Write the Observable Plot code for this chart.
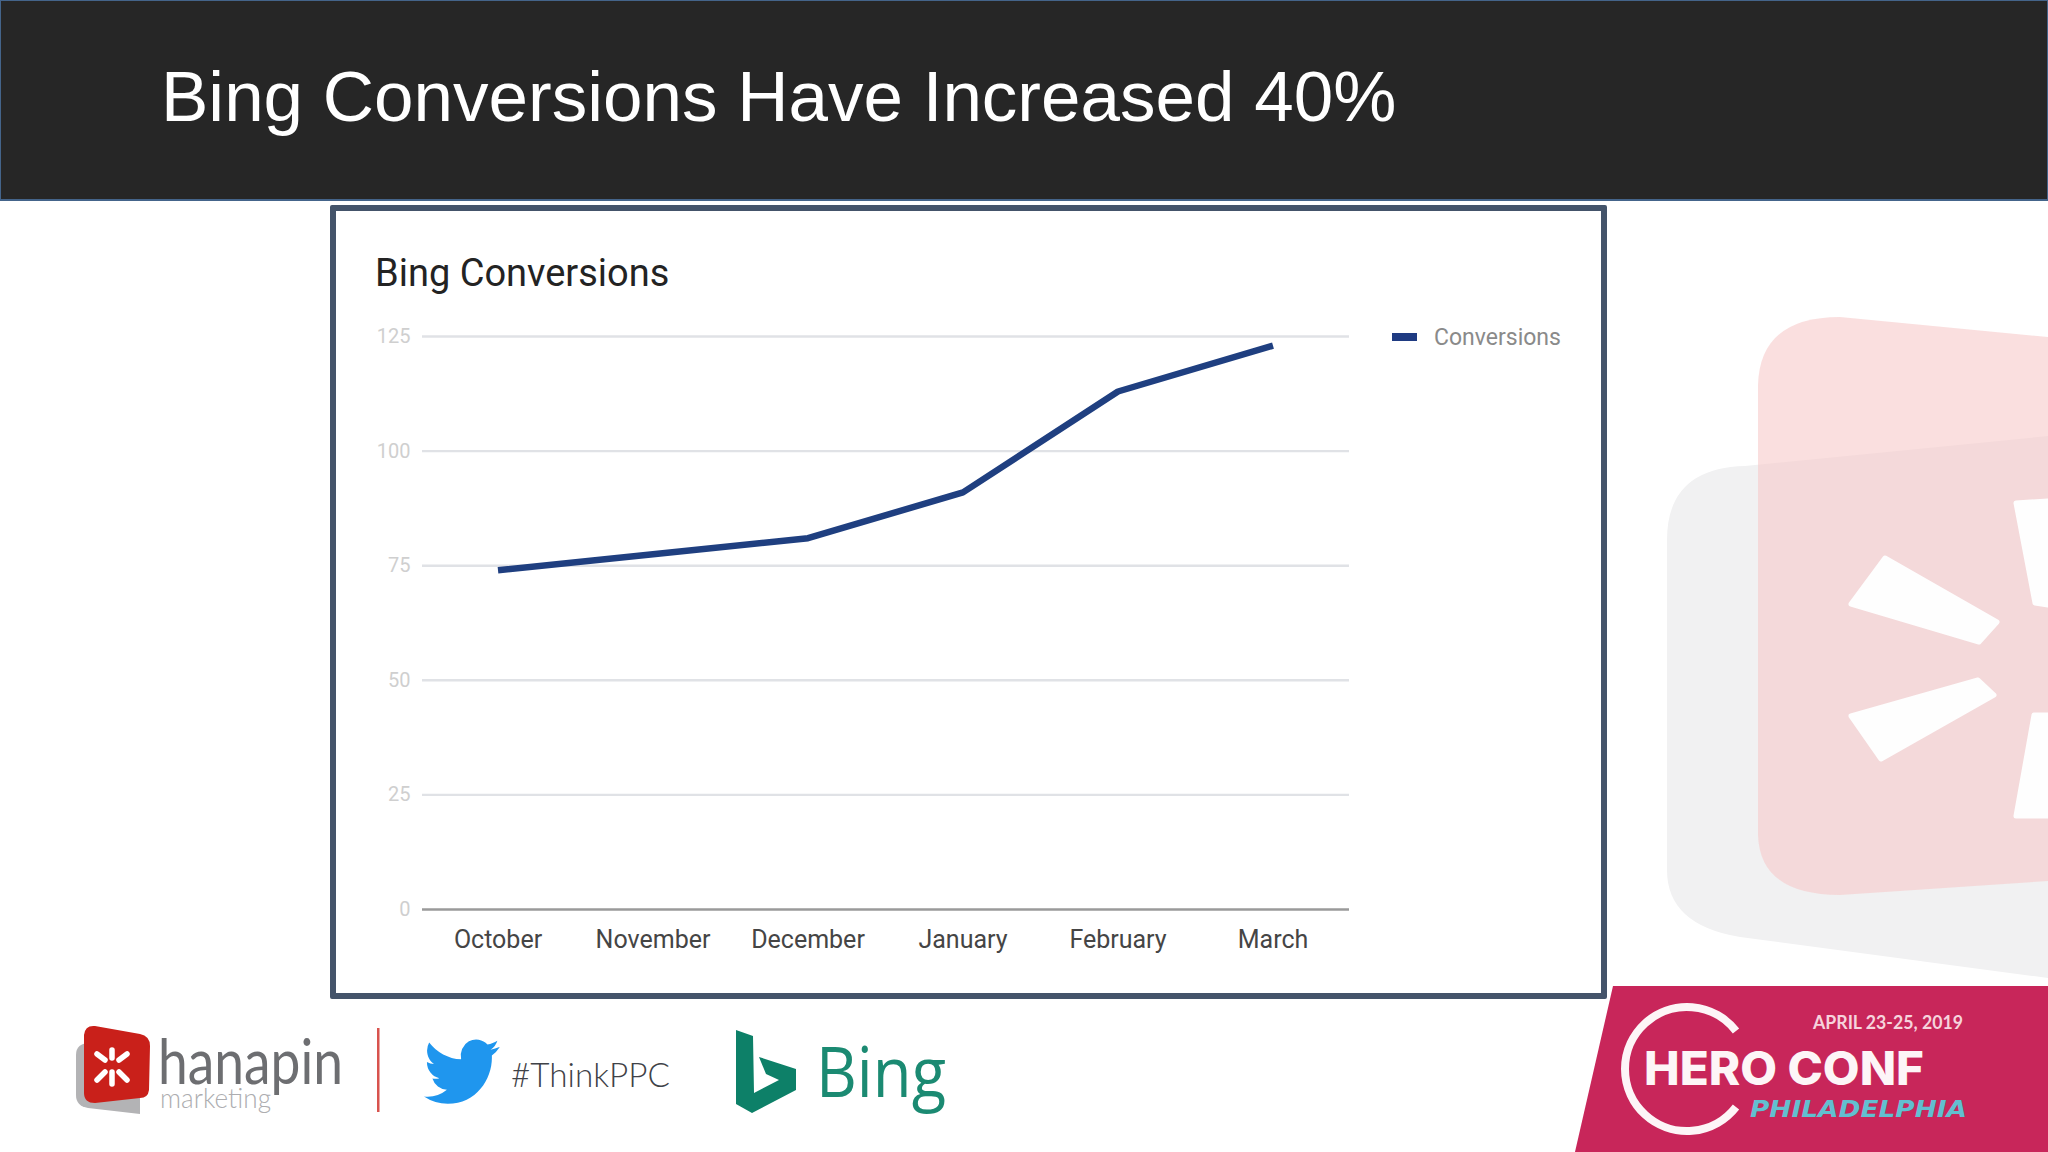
<!DOCTYPE html>
<html><head><meta charset="utf-8">
<script src="https://cdn.jsdelivr.net/npm/d3@7"></script>
<script src="https://cdn.jsdelivr.net/npm/@observablehq/plot@0.6"></script>
<style>
html,body{margin:0;padding:0;background:#fff;width:2048px;height:1152px;overflow:hidden;position:relative}
.abs{position:absolute;white-space:nowrap}
#header{left:0;top:0;width:2046px;height:198px;background:#262626;border:1px solid #44648a;border-bottom-width:2px}
#slideTitle{left:161px;top:52px;font:71px/90px "Liberation Sans",Arial,sans-serif;color:#fff}
#card{left:330px;top:205px;width:1265px;height:782px;border:6px solid #44546a;border-radius:2px;background:#fff}
#chartTitle{left:375px;top:248px;font:38px/50px Roboto,sans-serif;color:#232323}
#legendSwatch{left:1392px;top:333px;width:25px;height:8px;background:#1f3b82}
#legendLabel{left:1434px;top:323px;font:23px/30px Roboto,sans-serif;color:#8a8a8a}
#chart{left:336px;top:211px}
#deco{left:0;top:0}
</style></head><body>
<svg id="deco" class="abs" width="2048" height="1152" viewBox="0 0 2048 1152">
  <!-- watermark -->
  <path d="M1667 540Q1667 468 1745 466L2048 436L2048 978L1740 937Q1667 925 1667 870Z" fill="#f1f1f2"/>
  <path d="M1758 385Q1760 317 1840 317L2048 337L2048 881L1840 895Q1760 895 1758 835Z" fill="#f7caca" opacity=".6"/>
  <g fill="#fefefe" stroke="#fefefe" stroke-width="5" stroke-linejoin="round">
    <path d="M1851 604L1885 558L1997 622L1979 642Z"/>
    <path d="M1851 716L1881 759L1994 695L1978 680Z"/>
    <path d="M2016 503L2035 603L2048 605L2048 501Z"/>
    <path d="M2016 816L2034 715L2048 715L2048 816Z"/>
  </g>
  <!-- hanapin logo -->
  <path d="M76 1055Q76 1043 90 1043L140 1050L140 1114L88 1108Q76 1106 76 1095Z" fill="#b3b3b5"/>
  <path d="M84 1035Q85 1025 95 1026L140 1034Q150 1036 150 1046L149 1090Q148 1098 140 1098L95 1103Q84 1103 84 1093Z" fill="#c9201a"/>
  <g stroke="#fff" stroke-width="5.5" stroke-linecap="round">
    <path d="M112 1050L112 1058M112 1072L112 1084M97 1054L105 1060M97 1080L105 1072M127 1054L119 1060M127 1080L119 1072"/>
  </g>
  <text x="158" y="1084" font-family="Lato,sans-serif" font-weight="400" font-size="62" fill="#6d6e71" textLength="185" lengthAdjust="spacingAndGlyphs">hanapin</text>
  <text x="160" y="1108" font-family="Lato,sans-serif" font-weight="300" font-size="28" fill="#adadb0" textLength="111" lengthAdjust="spacingAndGlyphs">marketing</text>
  <rect x="377" y="1028" width="2.5" height="84" fill="#d8534e"/>
  <path transform="translate(424 1032) scale(3.15 3.3)" fill="#1f96ee" d="M23.953 4.57a10 10 0 01-2.825.775 4.958 4.958 0 002.163-2.723c-.951.555-2.005.959-3.127 1.184a4.92 4.92 0 00-8.384 4.482C7.69 8.095 4.067 6.13 1.64 3.162a4.822 4.822 0 00-.666 2.475c0 1.71.87 3.213 2.188 4.096a4.904 4.904 0 01-2.228-.616v.06a4.923 4.923 0 003.946 4.827 4.996 4.996 0 01-2.212.085 4.936 4.936 0 004.604 3.417 9.867 9.867 0 01-6.102 2.105c-.39 0-.779-.023-1.17-.067a13.995 13.995 0 007.557 2.209c9.053 0 13.998-7.496 13.998-13.985 0-.21 0-.42-.015-.63A9.935 9.935 0 0024 4.59z"/>
  <text x="511" y="1087" font-family="Lato,sans-serif" font-weight="300" font-size="34" fill="#3f4247" textLength="159" lengthAdjust="spacingAndGlyphs">#ThinkPPC</text>
  <path d="M736 1030L753 1036L754 1093L779 1080L766 1074L759 1057L796 1069L796 1090L752 1113L736 1104Z" fill="#0d8068"/>
  <text x="816" y="1097" font-family="'Open Sans',sans-serif" font-size="69" fill="#1b8a72" textLength="130" lengthAdjust="spacingAndGlyphs">Bing</text>
  <!-- hero conf -->
  <path d="M1613 986L2048 986L2048 1152L1575 1152Z" fill="#c8265a"/>
  <path d="M1736 1031A62 62 0 1 0 1736 1107" fill="none" stroke="#fdf5f7" stroke-width="8"/>
  <text x="1813" y="1029" font-family="Lato,sans-serif" font-weight="700" font-size="18" fill="#f6d3dc" textLength="150" lengthAdjust="spacingAndGlyphs">APRIL 23-25, 2019</text>
  <text x="1644" y="1085" font-family="Inter,sans-serif" font-weight="800" font-size="46" fill="#fdf5f7" textLength="280" lengthAdjust="spacingAndGlyphs">HERO CONF</text>
  <text x="1750" y="1117" font-family="'DejaVu Sans',sans-serif" font-weight="700" font-style="italic" font-size="23" fill="#62bfd0" textLength="217" lengthAdjust="spacingAndGlyphs">PHILADELPHIA</text>
</svg>
<div id="header" class="abs"></div>
<div id="slideTitle" class="abs">Bing Conversions Have Increased 40%</div>
<div id="card" class="abs"></div>
<div id="chartTitle" class="abs">Bing Conversions</div>
<div id="legendSwatch" class="abs"></div>
<div id="legendLabel" class="abs">Conversions</div>
<div id="chart" class="abs"></div>
<script>
const months = ["October","November","December","January","February","March"];
const conversions = [74, 77.5, 81, 91, 113, 123];
const yTicks = [0, 25, 50, 75, 100, 125];

const rows = months.map((month, i) => ({month, value: conversions[i]}));
const chart = Plot.plot({
  width: 1265, height: 782,
  marginLeft: 86, marginRight: 252, marginTop: 125, marginBottom: 84,
  style: {background: "transparent", fontFamily: "Roboto, sans-serif"},
  x: {type: "band", domain: months, padding: 0, round: false, range: [84, 1014], label: null},
  y: {domain: [0, 125], label: null},
  marks: [
    Plot.ruleY(yTicks.filter(d => d > 0), {stroke: "#e0e2e6", strokeWidth: 2.4}),
    Plot.ruleY([0], {stroke: "#9a9a9a", strokeWidth: 2.5}),
    Plot.axisY({ticks: yTicks, tickSize: 0, tickPadding: 12, fontSize: 20, fill: "#cfcfcf", label: null}),
    Plot.axisX({tickSize: 0, tickPadding: 21, fontSize: 25, fill: "#454545", label: null}),
    Plot.line(rows, {x: "month", y: "value", stroke: "#1f3f80", strokeWidth: 6.5, strokeLinejoin: "round", strokeLinecap: "butt"})
  ]
});
document.getElementById("chart").appendChild(chart);
</script>
</body></html>
